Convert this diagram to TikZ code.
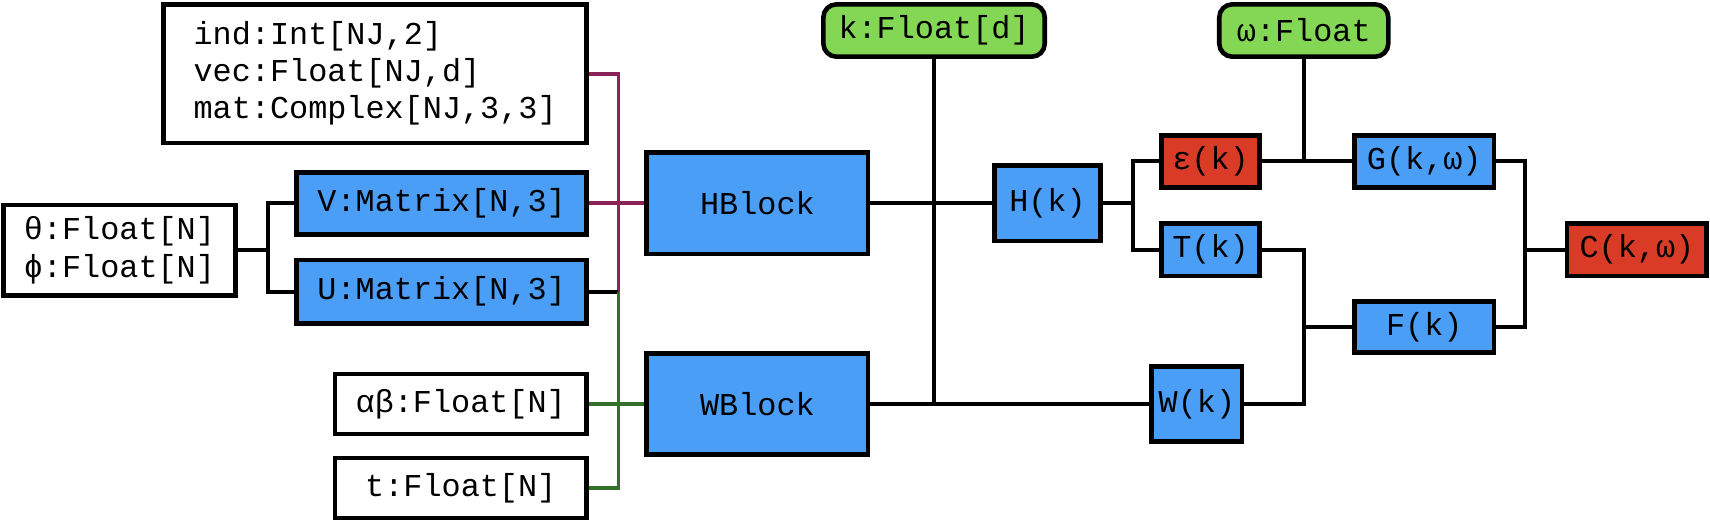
\documentclass[tikz,border=0pt]{standalone}
\usepackage{fontspec}
\setmonofont{Liberation Mono}
\usetikzlibrary{calc}
\definecolor{bblue}{HTML}{4A9EF6}
\definecolor{rred}{HTML}{DA3B26}
\definecolor{ggreen}{HTML}{84D655}
\definecolor{pline}{HTML}{8C2257}
\definecolor{gline}{HTML}{33702A}
\begin{document}
\begin{tikzpicture}[x=0.5pt,y=-0.5pt,
  every node/.style={font=\ttfamily\fontsize{14.6}{17}\selectfont, inner sep=0pt},
  box/.style={draw=black, line width=2.1pt, fill=white, minimum width=#1},
  bluebox/.style={box=#1, fill=bblue},
  redbox/.style={box=#1, fill=rred},
  greenbox/.style={box=#1, fill=ggreen, rounded corners=6pt},
  wire/.style={line width=1.8pt, draw=black},
  pwire/.style={line width=1.8pt, draw=pline},
  gwire/.style={line width=1.8pt, draw=gline}]
\useasboundingbox (0,0) rectangle (1568,480);
% nodes
\node[box=388pt/2, minimum height=127pt/2, align=left] (idx) at (344,67.5)
  {ind:Int[NJ,2]\\vec:Float[NJ,d]\\mat:Complex[NJ,3,3]};
\node[box=213pt/2, minimum height=83pt/2, align=left] (th) at (109.5,229.5)
  {θ:Float[N]\\ϕ:Float[N]};
\node[bluebox=266pt/2, minimum height=57pt/2] (V) at (405,186.5) {V:Matrix[N,3]};
\node[bluebox=266pt/2, minimum height=58pt/2] (U) at (405,267.5) {U:Matrix[N,3]};
\node[box=231pt/2, minimum height=55pt/2] (ab) at (422.5,370.5) {αβ:Float[N]};
\node[box=231pt/2, minimum height=55pt/2] (t) at (422.5,447.5) {t:Float[N]};
\node[bluebox=203pt/2, minimum height=93pt/2] (HB) at (694.5,186.5) {HBlock};
\node[bluebox=203pt/2, minimum height=93pt/2] (WB) at (694.5,370.5) {WBlock};
\node[greenbox=203pt/2, minimum height=48pt/2] (kf) at (856.5,28) {k:Float[d]};
\node[greenbox=155pt/2, minimum height=48pt/2] (wf) at (1195.5,28) {ω:Float};
\node[bluebox=97pt/2, minimum height=69pt/2] (Hk) at (960.5,186.5) {H(k)};
\node[redbox=90pt/2, minimum height=48pt/2] (ek) at (1110,148) {ε(k)};
\node[bluebox=90pt/2, minimum height=48pt/2] (Tk) at (1110,229) {T(k)};
\node[bluebox=83pt/2, minimum height=69pt/2] (Wk) at (1097.5,370.5) {W(k)};
\node[bluebox=128pt/2, minimum height=48pt/2] (Gk) at (1306,148) {G(k,ω)};
\node[bluebox=128pt/2, minimum height=47pt/2] (Fk) at (1306,299.75) {F(k)};
\node[redbox=128pt/2, minimum height=48pt/2] (Ck) at (1501,229) {C(k,ω)};
% junctions
\coordinate (jt) at ($(th.east)+(28,0)$);
\coordinate (ju) at ($(U.east)+(27,0)$);
\coordinate (jh) at ($(Hk.east)+(28,0)$);
\coordinate (jf) at (1196,299.75);
\coordinate (jc) at (1398,229);
% connectors
\draw[wire] (th.east) -- (jt);
\draw[wire] (V.west) -| (jt) |- (U.west);
\draw[pwire] (idx.east) -| (ju);
\draw[pwire] (V.east) -- (HB.west);
\draw[wire] (U.east) -- (ju);
\draw[gwire] (ju) |- (t.east);
\draw[gwire] (ab.east) -- (WB.west);
\draw[wire] (HB.east) -- (Hk.west);
\draw[wire] (WB.east) -- (Wk.west);
\draw[wire] (kf.south) -- (kf.south |- WB.east);
\draw[wire] (Hk.east) -- (jh);
\draw[wire] (ek.west) -| (jh) |- (Tk.west);
\draw[wire] (ek.east) -- (Gk.west);
\draw[wire] (wf.south) -- (wf.south |- Gk.west);
\draw[wire] (Tk.east) -| (jf) |- (Wk.east);
\draw[wire] (jf) -- (Fk.west);
\draw[wire] (Gk.east) -| (jc) |- (Fk.east);
\draw[wire] (jc) -- (Ck.west);
\end{tikzpicture}
\end{document}
